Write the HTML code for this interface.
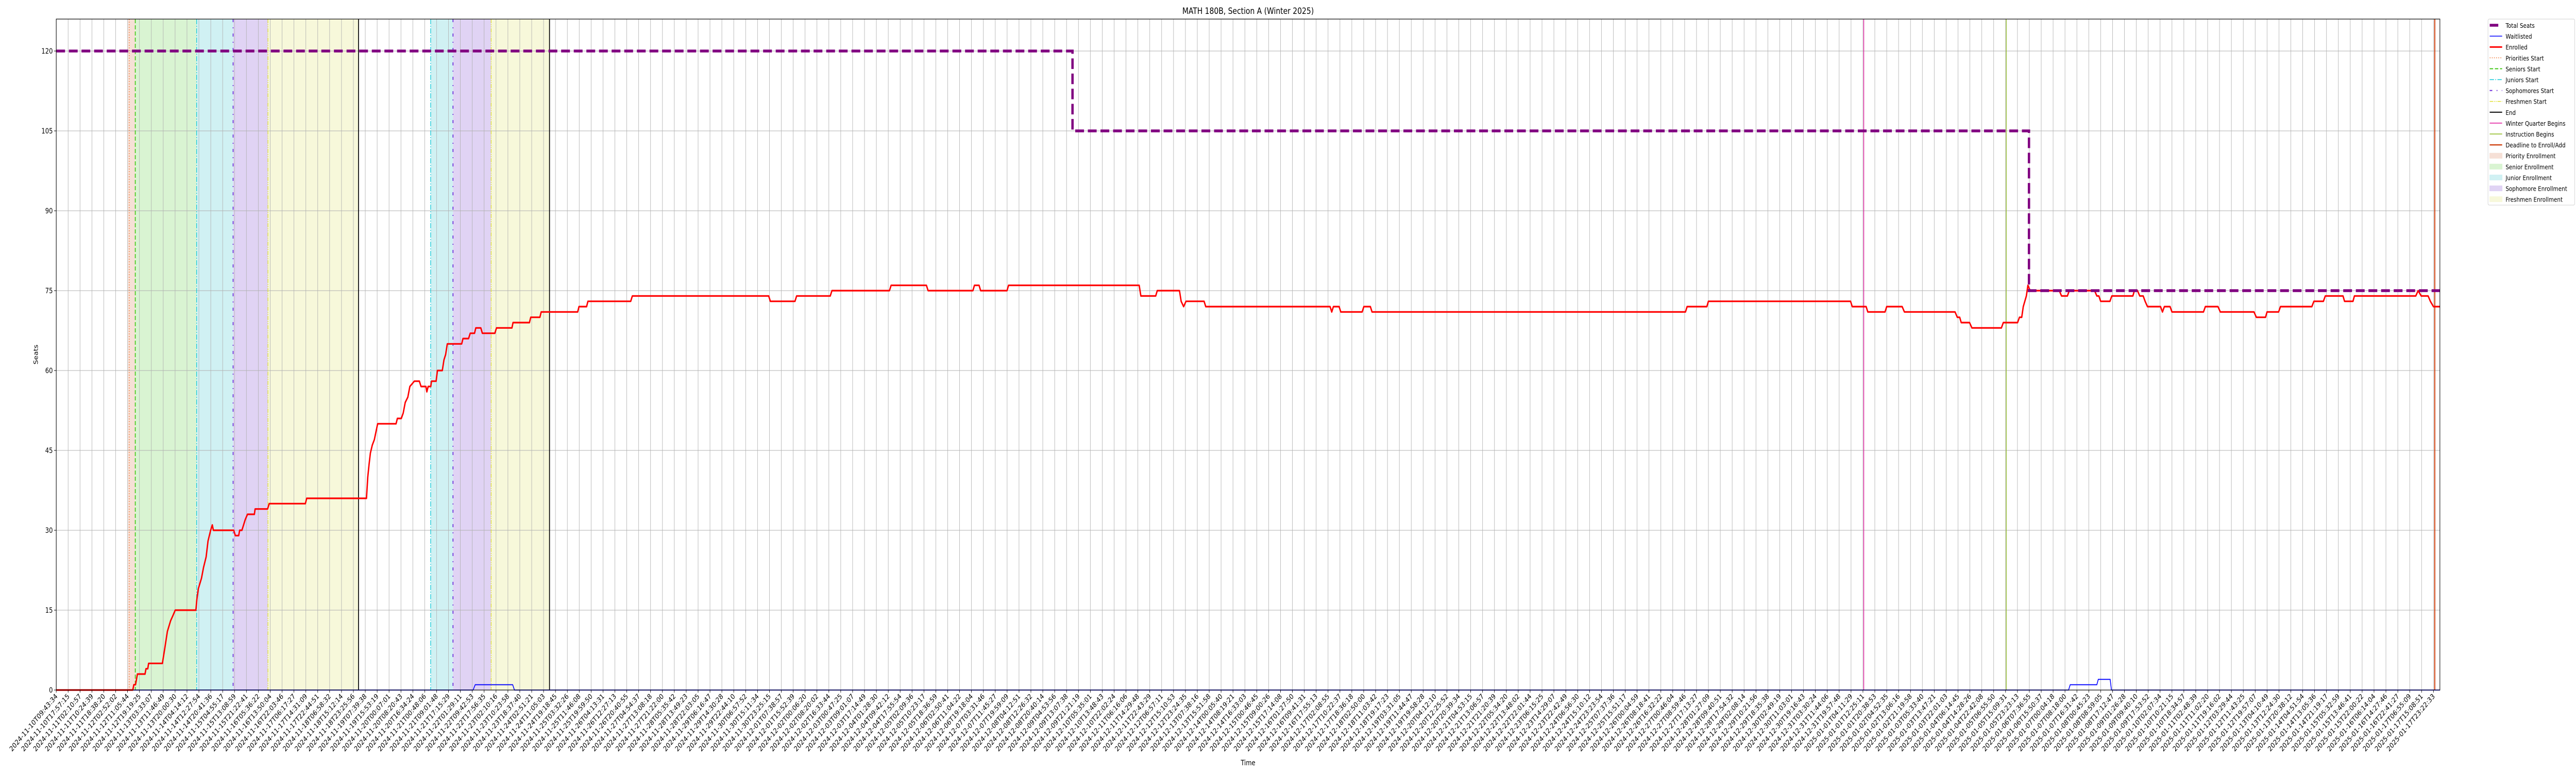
<!DOCTYPE html>
<html><head><meta charset="utf-8"><title>MATH 180B, Section A (Winter 2025)</title>
<style>
html,body{margin:0;padding:0;background:#fff;overflow:hidden;width:100%;height:100%;}
svg{display:block;font-family:"DejaVu Sans","Liberation Sans",sans-serif;overflow:hidden;width:100vw;height:100vh;}
</style></head>
<body>
<svg id="chart" viewBox="0 0 6000 1500" preserveAspectRatio="none" xmlns="http://www.w3.org/2000/svg">
<rect x="0" y="0" width="6000" height="1500" fill="#fff"/>
<text x="2907" y="27" font-size="16.7" text-anchor="middle">MATH 180B, Section A (Winter 2025)</text>
<text x="2907" y="1485" font-size="13.9" text-anchor="middle">Time</text>
<text x="0" y="0" font-size="13.9" text-anchor="middle" transform="translate(88,688) rotate(-90)">Seats</text>
<g id="bands"></g><g id="grid"></g><g id="vlines"></g><g id="series"></g><g id="axes"></g><g id="legend"></g>
</svg>
<script>
// ---- data (x in sample-tick units, y in seats) ----
const tickStart = "2024-11-10T09:43:34";
const tickEnd = "2025-01-17T23:22:33";
const tickCount = 201;
const yTicks = [0,15,30,45,60,75,90,105,120];

const seatsU = [0,85.5,85.5,165.97,165.97,200.55];
const seatsV = [120,120,105,105,75,75];

const waitU = [0,35.07,35.25,38.40,38.55,169.30,169.44,171.68,171.80,172.80,172.91,200.55];
const waitV = [0,0,1,1,0,0,1,1,2,2,0,0];

const enrollU = [0,6.44,6.53,6.67,6.83,7.47,7.55,7.70,7.77,8.93,9.13,9.35,9.62,9.82,10.01,11.75,11.83,11.95,12.22,12.39,12.61,12.77,12.99,13.13,13.22,14.93,15.07,15.35,15.43,15.62,15.76,15.90,16.09,16.67,16.73,17.78,17.92,20.96,21.07,26.10,26.21,26.32,26.43,26.59,26.76,27.04,28.59,28.70,29.03,29.19,29.36,29.58,29.75,30.13,30.55,30.69,31.10,31.18,31.29,31.51,31.57,31.96,32.07,32.48,32.62,32.76,32.90,34.11,34.22,34.69,34.83,35.19,35.30,35.72,35.85,36.90,37.04,38.34,38.43,39.81,39.92,40.69,40.80,43.87,43.98,44.62,44.73,48.33,48.47,59.94,60.08,62.15,62.29,65.12,65.26,70.10,70.24,73.21,73.35,77.12,77.25,77.64,77.77,79.99,80.12,91.11,91.25,92.50,92.63,94.50,94.64,94.85,95.05,96.57,96.71,107.17,107.31,107.45,107.93,108.07,109.87,110.01,110.56,110.70,137.07,137.21,138.87,139.00,150.96,151.10,152.27,152.41,153.86,154.00,155.30,155.49,159.75,159.94,160.14,160.27,160.97,161.17,163.65,163.81,165.01,165.17,165.36,165.49,165.75,165.88,166.07,168.52,168.71,169.20,169.36,171.49,171.68,171.85,172.00,172.78,172.94,174.71,174.84,175.10,175.29,175.58,175.74,175.94,177.04,177.20,177.36,177.84,178.00,180.65,180.81,181.87,182.07,184.90,185.10,185.87,186.00,186.97,187.13,189.77,189.94,190.74,190.90,192.39,192.52,193.23,193.35,198.51,198.71,198.97,199.55,199.74,200.00,200.55];
const enrollV = [0,0,1,1,3,3,4,4,5,5,7.8,11,13,14,15,15,17,19,21,23,25,28,30,31,30,30,29,29,30,30,31,32,33,33,34,34,35,35,36,36,40,42.4,44.5,46,47,50,50,51,51,52,54,55,57,58,58,57,57,56,57,57,58,58,60,60,62,63,65,65,66,66,67,67,68,68,67,67,68,68,69,69,70,70,71,71,72,72,73,73,74,74,73,73,74,74,75,75,76,76,75,75,76,76,75,75,76,76,74,74,75,75,73,72,73,73,72,72,71,72,72,71,71,72,72,71,71,72,72,73,73,72,72,71,71,72,72,71,71,70,70,69,69,68,68,69,69,70,70,72,74,76,75,75,74,74,75,75,74,74,73,73,74,74,75,75,74,74,73,72,72,71,72,72,71,71,72,72,71,71,70,70,71,71,72,72,73,73,74,74,73,73,74,74,75,74,74,73,72,72];

const bandNames = ["priority-enrollment","senior-enrollment","junior-enrollment","sophomore-enrollment","freshmen-enrollment","junior-enrollment-2","sophomore-enrollment-2","freshmen-enrollment-2"];
const bandStart = [6.03,6.65,11.81,14.88,17.81,31.50,33.38,36.59];
const bandEnd = [6.65,11.81,14.88,17.81,25.43,33.38,36.59,41.50];
const bandColor = ["#f6e0d6","#d9f4d2","#d0f1f3","#e0d3f4","#f7f8da","#d0f1f3","#e0d3f4","#f7f8da"];

const eventNames = ["priorities-start","seniors-start","juniors-start","sophomores-start","freshmen-start","end","juniors-start-2","sophomores-start-2","freshmen-start-2","end-2","winter-quarter-begins","instruction-begins","deadline-to-enroll"];
const eventU = [6.14,6.65,11.81,14.88,17.81,25.43,31.50,33.38,36.59,41.50,152.07,164.06,200.11];
const eventStyle = ["prio","sen","jun","soph","fresh","end","jun","soph","fresh","end","winter","instr","dead"];

// ---- axes ----
const X0 = 131, X1 = 5683, Y0 = 1339, Y1 = 37;
const TICK_STEP = 27.685;
const YMAX = 126;
function xs(u){ return X0 + u*TICK_STEP; }
function ys(v){ return Y0 - v*(Y0-Y1)/YMAX; }

const NS = "http://www.w3.org/2000/svg";
function mk(tag, parent){ const e=document.createElementNS(NS,tag); parent.appendChild(e); return e; }
const gB=document.getElementById('bands'), gG=document.getElementById('grid'), gV=document.getElementById('vlines'),
      gS=document.getElementById('series'), gA=document.getElementById('axes'), gL=document.getElementById('legend');

// bands
for(let i=0;i<bandStart.length;i++){
  const r=mk('rect',gB);
  
  
  r.setAttribute('x', xs(bandStart[i])); r.setAttribute('y', Y1);
  r.setAttribute('width', xs(bandEnd[i])-xs(bandStart[i])); r.setAttribute('height', Y0-Y1);
  r.setAttribute('fill', bandColor[i]);
}

// tick labels
function pad(n){return String(n).padStart(2,'0');}
const t0=Date.parse(tickStart+"Z"), t1=Date.parse(tickEnd+"Z");
const tickLabels=[];
for(let i=0;i<tickCount;i++){
  const d=new Date(t0+(t1-t0)*i/(tickCount-1));
  tickLabels.push(d.getUTCFullYear()+"-"+pad(d.getUTCMonth()+1)+"-"+pad(d.getUTCDate())+"T"+pad(d.getUTCHours())+":"+pad(d.getUTCMinutes())+":"+pad(d.getUTCSeconds()));
}

// grid + x ticks
for(let i=0;i<tickLabels.length;i++){
  const x=xs(i);
  const l=mk('line',gG);
  
  
  l.setAttribute('x1',x);l.setAttribute('x2',x);l.setAttribute('y1',Y1);l.setAttribute('y2',Y0);
  l.setAttribute('stroke','#b0b0b0');l.setAttribute('stroke-width','1');
  const tk=mk('line',gA);
  
  
  tk.setAttribute('x1',x);tk.setAttribute('x2',x);tk.setAttribute('y1',Y0);tk.setAttribute('y2',Y0+5);
  tk.setAttribute('stroke','#000');
  const t=mk('text',gA);
  
  
  t.setAttribute('font-size','13.9'); t.setAttribute('text-anchor','end');
  t.setAttribute('transform','translate('+(x+4)+','+(Y0+13)+') rotate(-45)');
  t.textContent=tickLabels[i];
}
for(const v of yTicks){
  const y=ys(v);
  const l=mk('line',gG);
  
  
  l.setAttribute('x1',X0);l.setAttribute('x2',X1);l.setAttribute('y1',y);l.setAttribute('y2',y);
  l.setAttribute('stroke','#b0b0b0');l.setAttribute('stroke-width','1');
  const tk=mk('line',gA);
  
  
  tk.setAttribute('x1',X0-5);tk.setAttribute('x2',X0);tk.setAttribute('y1',y);tk.setAttribute('y2',y);
  tk.setAttribute('stroke','#000');
  const t=mk('text',gA);
  
  
  t.setAttribute('font-size','13.9'); t.setAttribute('text-anchor','end');
  t.setAttribute('x',X0-8); t.setAttribute('y',y+5);
  t.textContent=String(v);
}

// vertical event lines
const styles={
  prio:{c:"#f07838",w:1.5,d:"2 3"},
  sen:{c:"#44c818",w:2,d:"8 4"},
  jun:{c:"#10c8d8",w:1.5,d:"10 3 2 3"},
  soph:{c:"#6a28d8",w:2,d:"6 10 2 10"},
  fresh:{c:"#e0e030",w:1.5,d:"8 2 2 2 2 2"},
  end:{c:"#000000",w:2,d:""},
  winter:{c:"#e0109a",w:1.5,d:""},
  instr:{c:"#8ab818",w:1.5,d:""},
  dead:{c:"#d04818",w:2.5,d:""}
};
for(let i=0;i<eventU.length;i++){
  const s=styles[eventStyle[i]]; const x=xs(eventU[i]);
  const l=mk('line',gV);
  
  
  l.setAttribute('x1',x);l.setAttribute('x2',x);l.setAttribute('y1',Y1);l.setAttribute('y2',Y0);
  l.setAttribute('stroke',s.c);l.setAttribute('stroke-width',s.w);
  if(s.d) l.setAttribute('stroke-dasharray',s.d);
}

// series
function pathOf(U,V){ let d=""; for(let i=0;i<U.length;i++){ d+=(i?"L":"M")+xs(U[i]).toFixed(2)+","+ys(V[i]).toFixed(2);} return d; }
const wp=mk('path',gS);


wp.setAttribute('d',pathOf(waitU,waitV)); wp.setAttribute('fill','none'); wp.setAttribute('stroke','#0000ff'); wp.setAttribute('stroke-width','1.8');
const ep=mk('path',gS);


ep.setAttribute('d',pathOf(enrollU,enrollV)); ep.setAttribute('fill','none'); ep.setAttribute('stroke','#ff0000'); ep.setAttribute('stroke-width','3.2'); ep.setAttribute('stroke-linejoin','round');
const sp=mk('path',gS);


sp.setAttribute('d',pathOf(seatsU,seatsV)); sp.setAttribute('fill','none'); sp.setAttribute('stroke','#800080'); sp.setAttribute('stroke-width','5.5'); sp.setAttribute('stroke-dasharray','20.5 8.9');

// frame
const fr=mk('rect',gA);


fr.setAttribute('x',X0);fr.setAttribute('y',Y1);fr.setAttribute('width',X1-X0);fr.setAttribute('height',Y0-Y1);
fr.setAttribute('fill','none');fr.setAttribute('stroke','#000');fr.setAttribute('stroke-width','1.2');

// legend
const legendLabels=["Total Seats","Waitlisted","Enrolled","Priorities Start","Seniors Start","Juniors Start","Sophomores Start","Freshmen Start","End","Winter Quarter Begins","Instruction Begins","Deadline to Enroll/Add","Priority Enrollment","Senior Enrollment","Junior Enrollment","Sophomore Enrollment","Freshmen Enrollment"];
const legendKind=["seats","wait","enr","prio","sen","jun","soph","fresh","end","winter","instr","dead","b0","b1","b2","b3","b4"];
const lb=mk('rect',gL);


lb.setAttribute('x',5795);lb.setAttribute('y',37);lb.setAttribute('width',202);lb.setAttribute('height',361);lb.setAttribute('rx',3);
lb.setAttribute('fill','#fff');lb.setAttribute('stroke','#d0d0d0');
for(let i=0;i<legendLabels.length;i++){
  const cy=49+i*21.1, k=legendKind[i];
  const g=mk('g',gL);
  
  
  if(k[0]==='b'){
    const r=mk('rect',g); r.setAttribute('x',5799);r.setAttribute('y',cy-5);r.setAttribute('width',29);r.setAttribute('height',10);
    r.setAttribute('fill',bandColor[+k[1]]);r.setAttribute('stroke',bandColor[+k[1]]);
  } else {
    const l=mk('line',g); l.setAttribute('x1',5799);l.setAttribute('x2',5828);l.setAttribute('y1',cy);l.setAttribute('y2',cy);
    if(k==='seats'){l.setAttribute('stroke','#800080');l.setAttribute('stroke-width','5.5');l.setAttribute('x2','5819');}
    else if(k==='wait'){l.setAttribute('stroke','#0000ff');l.setAttribute('stroke-width','1.5');}
    else if(k==='enr'){l.setAttribute('stroke','#ff0000');l.setAttribute('stroke-width','3');}
    else {const s=styles[k]; l.setAttribute('stroke',s.c);l.setAttribute('stroke-width',s.w); if(s.d) l.setAttribute('stroke-dasharray',s.d);}
  }
  const t=mk('text',g); t.setAttribute('x',5836);t.setAttribute('y',cy+5);t.setAttribute('font-size','12.5');
  t.textContent=legendLabels[i];
  const maxW=5994-5836;
  let w=0; try{ w=t.getComputedTextLength(); }catch(e){}
  if(w>maxW){ t.setAttribute('textLength',maxW); t.setAttribute('lengthAdjust','spacingAndGlyphs'); }
}
</script>
</body></html>
